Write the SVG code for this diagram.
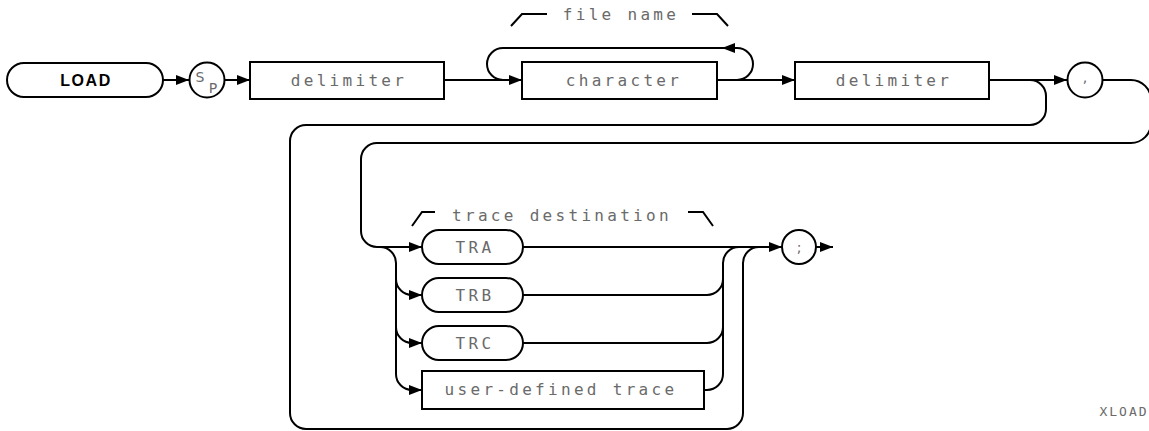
<svg xmlns="http://www.w3.org/2000/svg" width="1149" height="431" viewBox="0 0 1149 431">
<style>
.shape{fill:none;stroke:#000;stroke-width:2}
.line{fill:none;stroke:#000;stroke-width:2}
.lbl{font-family:"DejaVu Sans Mono","Liberation Mono",monospace;font-size:16px;fill:#6a6a6a;letter-spacing:3.3px;text-anchor:middle}
.kw{font-family:"Liberation Sans",Arial,sans-serif;font-size:16px;font-weight:bold;fill:#000;letter-spacing:1.6px;text-anchor:middle}
.sm{font-family:"DejaVu Sans","Liberation Sans",sans-serif;font-size:14px;fill:#6a6a6a;text-anchor:middle}
.brk{fill:none;stroke:#000;stroke-width:2}
</style>
<defs>
<marker id="arr" markerWidth="13" markerHeight="10" refX="13" refY="5" orient="auto" markerUnits="userSpaceOnUse">
<path d="M0,0 L13,5 L0,10 z" fill="#000"/>
</marker>
</defs>
<g id="connectors">
<path class="line" d="M163,80 L189,80" marker-end="url(#arr)"/>
<path class="line" d="M224,80 L250,80" marker-end="url(#arr)"/>
<path class="line" d="M444,80 L522,80" marker-end="url(#arr)"/>
<path class="line" d="M717,80 L737,80 A16,16 0 0 0 737,48 L722,48" marker-end="url(#arr)"/>
<path class="line" d="M722,48 L503,48 A16,16 0 0 0 503,80"/>
<path class="line" d="M717,80 L795,80" marker-end="url(#arr)"/>
<path class="line" d="M989,80 L1067,80" marker-end="url(#arr)"/>
<path class="line" d="M1030,80 A16,16 0 0 1 1046,96 L1046,109 A16,16 0 0 1 1030,125 L306,125 A16,16 0 0 0 290,141 L290,413 A16,16 0 0 0 306,429 L727,429 A16,16 0 0 0 743,413 L743,263 A16,16 0 0 1 759,247"/>
<path class="line" d="M1103,80 L1131,80 A20,20 0 0 1 1151,100 L1151,123 A20,20 0 0 1 1131,143 L377,143 A16,16 0 0 0 361,159 L361,231 A16,16 0 0 0 377,247 L422,247" marker-end="url(#arr)"/>
<path class="line" d="M380,247 A16,16 0 0 1 396,263 L396,374 A16,16 0 0 0 412,390 L422,390" marker-end="url(#arr)"/>
<path class="line" d="M396,279 A16,16 0 0 0 412,295 L422,295" marker-end="url(#arr)"/>
<path class="line" d="M396,327 A16,16 0 0 0 412,343 L422,343" marker-end="url(#arr)"/>
<path class="line" d="M523,247 L782,247" marker-end="url(#arr)"/>
<path class="line" d="M523,295 L707,295 A16,16 0 0 0 723,279 L723,263 A16,16 0 0 1 739,247"/>
<path class="line" d="M523,343 L707,343 A16,16 0 0 0 723,327 L723,279"/>
<path class="line" d="M704,390 L707,390 A16,16 0 0 0 723,374 L723,327"/>
<path class="line" d="M816,247 L833,247" marker-end="url(#arr)"/>
</g>
<g id="load">
<rect class="shape" x="7" y="63" width="156" height="34" rx="17" ry="17"/>
<text class="kw" x="86" y="86">LOAD</text>
</g>
<g id="sp">
<circle class="shape" cx="207" cy="80" r="17.5"/>
<text class="sm" x="200" y="82">S</text>
<text class="sm" x="213" y="93">P</text>
</g>
<g id="delimiter1">
<rect class="shape" x="250" y="62" width="194" height="37"/>
<text class="lbl" x="349" y="86">delimiter</text>
</g>
<g id="filename-label">
<path class="brk" d="M511,26 L522,14 L547,14"/>
<path class="brk" d="M692,14 L717,14 L728,26"/>
<text class="lbl" x="621" y="20">file name</text>
</g>
<g id="character">
<rect class="shape" x="522" y="62" width="195" height="37"/>
<text class="lbl" x="624" y="86">character</text>
</g>
<g id="delimiter2">
<rect class="shape" x="795" y="62" width="194" height="37"/>
<text class="lbl" x="894" y="86">delimiter</text>
</g>
<g id="comma">
<circle class="shape" cx="1085" cy="80" r="17.5"/>
<text class="sm" x="1085" y="82">,</text>
</g>
<g id="trace-destination-label">
<path class="brk" d="M412,226 L422,212 L435,212"/>
<path class="brk" d="M688,212 L703,212 L713,226"/>
<text class="lbl" x="562" y="221">trace destination</text>
</g>
<g id="tra">
<rect class="shape" x="422" y="230" width="101" height="34" rx="17" ry="17"/>
<text class="lbl" x="475" y="253">TRA</text>
</g>
<g id="trb">
<rect class="shape" x="422" y="278" width="101" height="34" rx="17" ry="17"/>
<text class="lbl" x="475" y="301">TRB</text>
</g>
<g id="trc">
<rect class="shape" x="422" y="326" width="101" height="34" rx="17" ry="17"/>
<text class="lbl" x="475" y="349">TRC</text>
</g>
<g id="user-defined-trace">
<rect class="shape" x="422" y="371" width="282" height="38"/>
<text class="lbl" x="561" y="395">user-defined trace</text>
</g>
<g id="semicolon">
<circle class="shape" cx="799" cy="247" r="17"/>
<text class="sm" x="799" y="252">;</text>
</g>
<g id="footer">
<text class="sm" x="1124" y="416" style="font-size:13px;letter-spacing:2px;font-family:'DejaVu Sans Mono',monospace">XLOAD</text>
</g>
</svg>
